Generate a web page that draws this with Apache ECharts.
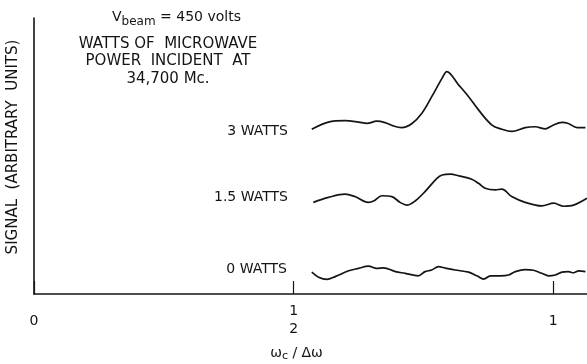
<!DOCTYPE html>
<html>
<head>
<meta charset="utf-8">
<script src="https://cdn.jsdelivr.net/npm/echarts@6/dist/echarts.min.js"></script>
<style>
  html, body { margin: 0; padding: 0; background: #fff; }
  #chart { width: 587px; height: 364px; }
</style>
</head>
<body>
<div id="chart"></div>
<script>
// Signal traces vs. omega_c / delta-omega (signal in arbitrary units, 0-100)
const x3W = [0.535, 0.567, 0.599, 0.625, 0.641, 0.660, 0.676, 0.692, 0.708, 0.728, 0.747, 0.766, 0.786, 0.795,
             0.818, 0.837, 0.856, 0.882, 0.901, 0.920, 0.946, 0.965, 0.985, 0.997, 1.017, 1.029, 1.046, 1.062];
const y3W = [59.7, 62.3, 62.8, 62.3, 61.8, 62.6, 62.1, 60.9, 60.3, 61.8, 65.5, 71.5, 78.2, 80.6,
             75.7, 71.5, 66.7, 61.2, 59.7, 58.9, 60.3, 60.6, 59.8, 60.9, 62.2, 61.8, 60.3, 60.3];

const x15W = [0.538, 0.567, 0.599, 0.618, 0.644, 0.654, 0.670, 0.689, 0.705, 0.718, 0.734, 0.753, 0.776, 0.786,
              0.802, 0.818, 0.843, 0.856, 0.869, 0.888, 0.901, 0.920, 0.946, 0.978, 1.001, 1.020, 1.039, 1.065];
const y15W = [33.2, 35.0, 36.2, 35.3, 33.2, 33.7, 35.6, 35.3, 33.2, 32.2, 33.7, 37.1, 41.9, 43.1,
              43.4, 42.8, 41.6, 40.1, 38.3, 37.7, 38.0, 35.3, 33.2, 31.9, 32.9, 31.8, 32.2, 34.7];

const x0W = [0.535, 0.548, 0.564, 0.580, 0.606, 0.625, 0.644, 0.660, 0.673, 0.696, 0.715, 0.740, 0.753, 0.766,
             0.779, 0.792, 0.811, 0.837, 0.853, 0.866, 0.879, 0.898, 0.914, 0.927, 0.946, 0.962, 0.978, 0.991,
             1.004, 1.017, 1.029, 1.039, 1.049, 1.062];
const y0W = [7.9, 6.1, 5.3, 6.3, 8.4, 9.3, 10.1, 9.3, 9.5, 8.1, 7.5, 6.6, 8.1, 8.7,
             9.9, 9.4, 8.7, 7.9, 6.6, 5.4, 6.6, 6.6, 6.9, 8.1, 8.8, 8.6, 7.5, 6.6,
             6.9, 7.9, 8.1, 7.7, 8.4, 8.1];

const seriesNames = ['3 WATTS', '1.5 WATTS', '0 WATTS'];
const xTickLabels = { '0': '{s|0}', '0.5': '{f|1}\n{f|2}', '1': '{s|1}' };

const FONT = 'DejaVu Sans';
const INK = '#141414';

function pairs(xs, ys) { return xs.map((x, i) => [x, ys[i]]); }

function trace(name, xs, ys) {
  return {
    name: name,
    type: 'line',
    data: pairs(xs, ys),
    smooth: 0.35,
    showSymbol: false,
    silent: true,
    lineStyle: { color: INK, width: 1.7 }
  };
}

const plain = { fontFamily: FONT, fontSize: 14, fontWeight: 'normal', color: INK };

const chart = echarts.init(document.getElementById('chart'), null, { renderer: 'canvas' });

chart.setOption({
  animation: false,
  backgroundColor: '#ffffff',
  textStyle: { fontFamily: FONT, color: INK },
  grid: { left: 34, right: 0, top: 18, bottom: 70, containLabel: false, outerBoundsMode: 'none' },
  title: [
    {
      text: '{v|V}{sub|beam}{v| = 450 volts}',
      left: 107, top: 3,
      textStyle: {
        fontWeight: 'normal',
        rich: {
          v: { fontFamily: FONT, fontSize: 14, fontWeight: 'normal', color: INK, lineHeight: 18 },
          sub: { fontFamily: FONT, fontSize: 12, fontWeight: 'normal', color: INK, lineHeight: 18, padding: [10, 0, 0, 0] }
        }
      }
    },
    {
      text: 'WATTS OF  MICROWAVE\nPOWER  INCIDENT  AT\n34,700 Mc.',
      left: 163, top: 30, textAlign: 'center',
      textStyle: { fontFamily: FONT, fontSize: 15, fontWeight: 'normal', color: INK, lineHeight: 17.5 }
    },
    { text: seriesNames[0], right: 294, top: 119, textStyle: plain },
    { text: seriesNames[1], right: 294, top: 185, textStyle: plain },
    { text: seriesNames[2], right: 295, top: 257, textStyle: plain }
  ],
  xAxis: {
    type: 'value',
    min: 0,
    max: 1.065,
    interval: 0.5,
    name: '{w|ω}{c|c}{w| / Δω}',
    nameLocation: 'middle',
    nameGap: 50,
    nameTextStyle: {
      padding: [0, 28, 0, 0],
      rich: {
        w: { fontFamily: FONT, fontSize: 14, color: INK },
        c: { fontFamily: FONT, fontSize: 11, color: INK, padding: [7, 0, 0, 0] }
      }
    },
    axisLine: { show: true, onZero: false, lineStyle: { color: INK, width: 1.6 } },
    axisTick: { show: true, inside: true, length: 13, lineStyle: { color: INK, width: 1.2 } },
    splitLine: { show: false },
    axisLabel: {
      margin: 8,
      showMaxLabel: false,
      formatter: function (v) {
        const key = String(Math.round(v * 10) / 10);
        return xTickLabels[key] !== undefined ? xTickLabels[key] : '';
      },
      rich: {
        f: { fontFamily: FONT, fontSize: 14, color: INK, lineHeight: 18 },
        s: { fontFamily: FONT, fontSize: 14, color: INK, lineHeight: 38 }
      }
    }
  },
  yAxis: {
    type: 'value',
    min: 0,
    max: 100,
    name: 'SIGNAL  (ARBITRARY  UNITS)',
    nameLocation: 'middle',
    nameRotate: 90,
    nameGap: 13,
    nameTextStyle: { fontFamily: FONT, fontSize: 15, color: INK, padding: [0, 0, 0, 18] },
    axisLine: { show: true, onZero: false, lineStyle: { color: INK, width: 1.6 } },
    axisTick: { show: false },
    axisLabel: { show: false },
    splitLine: { show: false }
  },
  series: [
    trace(seriesNames[0], x3W, y3W),
    trace(seriesNames[1], x15W, y15W),
    trace(seriesNames[2], x0W, y0W)
  ]
});
</script>
</body>
</html>
